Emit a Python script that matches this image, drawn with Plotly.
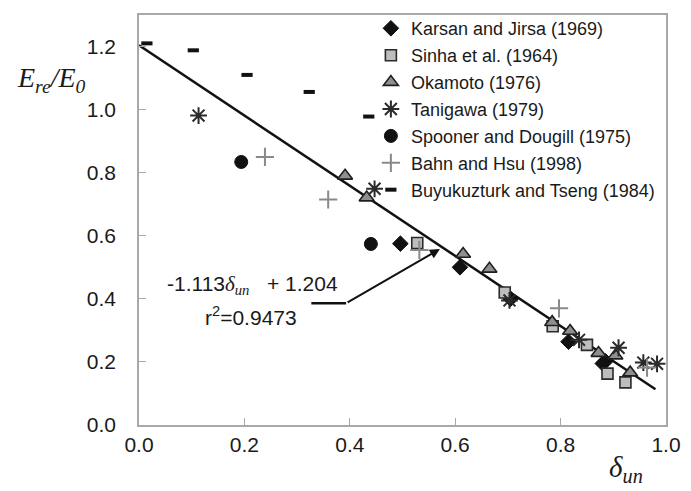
import plotly.graph_objects as go

# Normalised unloading strain (x) vs. reloading modulus ratio (y), by study
karsan_x = [0.496, 0.609, 0.705, 0.815, 0.885, 0.880]
karsan_y = [0.575, 0.500, 0.400, 0.264, 0.202, 0.195]

sinha_x = [0.528, 0.694, 0.785, 0.850, 0.889, 0.923]
sinha_y = [0.577, 0.420, 0.313, 0.254, 0.163, 0.135]

okamoto_x = [0.391, 0.432, 0.615, 0.665, 0.784, 0.818, 0.872, 0.904, 0.932]
okamoto_y = [0.790, 0.721, 0.542, 0.495, 0.326, 0.298, 0.228, 0.220, 0.166]

tanigawa_x = [0.113, 0.447, 0.703, 0.835, 0.910, 0.957, 0.983]
tanigawa_y = [0.981, 0.749, 0.395, 0.270, 0.245, 0.198, 0.194]

spooner_x = [0.194, 0.440]
spooner_y = [0.834, 0.574]

bahn_x = [0.239, 0.359, 0.532, 0.797, 0.964]
bahn_y = [0.850, 0.715, 0.555, 0.370, 0.182]

buyuk_x = [0.015, 0.103, 0.205, 0.323, 0.436]
buyuk_y = [1.210, 1.188, 1.110, 1.056, 0.978]

# Linear fit: E_re/E_0 = slope * delta_un + intercept
fit_slope = -1.113
fit_intercept = 1.204
fit_r2 = 0.9473
fit_x = [0.0, 0.98]
fit_y = [fit_slope * v + fit_intercept for v in fit_x]

tick_vals_x = [0.0, 0.2, 0.4, 0.6, 0.8, 1.0]
tick_vals_y = [0.0, 0.2, 0.4, 0.6, 0.8, 1.0, 1.2]

SANS = "Liberation Sans, Arial, sans-serif"
SERIF = "Liberation Serif, Times New Roman, serif"
DARK = "#1a1a1a"

fig = go.Figure()

fig.add_trace(go.Scatter(
    x=fit_x, y=fit_y, mode="lines", showlegend=False,
    line=dict(color="#111111", width=2.5), hoverinfo="skip"))

series = [
    ("Karsan and Jirsa (1969)", karsan_x, karsan_y,
     dict(symbol="diamond", size=12, color="#111111", line=dict(color="#111111", width=1))),
    ("Sinha et al. (1964)", sinha_x, sinha_y,
     dict(symbol="square", size=11, color="#bdbdbd", line=dict(color="#2a2a2a", width=1.6))),
    ("Okamoto (1976)", okamoto_x, okamoto_y,
     dict(symbol="triangle-up", size=13, color="#8f8f8f", line=dict(color="#1f1f1f", width=1.6))),
    ("Tanigawa (1979)", tanigawa_x, tanigawa_y,
     dict(symbol="asterisk-open", size=14, color="#2a2a2a", line=dict(color="#2a2a2a", width=2))),
    ("Spooner and Dougill (1975)", spooner_x, spooner_y,
     dict(symbol="circle", size=13, color="#111111", line=dict(color="#111111", width=1))),
    ("Bahn and Hsu (1998)", bahn_x, bahn_y,
     dict(symbol="cross-thin-open", size=13, color="#8a8a8a", line=dict(color="#8a8a8a", width=2))),
    ("Buyukuzturk and Tseng (1984)", buyuk_x, buyuk_y,
     dict(symbol="line-ew-open", size=8, color="#111111", line=dict(color="#111111", width=4))),
]

for i, (name, xs, ys, mk) in enumerate(series):
    fig.add_trace(go.Scatter(
        x=xs, y=ys, mode="markers", name=name, marker=mk,
        legendgroup=f"g{i}"))

# Leader from the fit label to the regression line
fig.add_shape(type="line", x0=0.327, y0=0.386, x1=0.393, y1=0.386,
              line=dict(color="#111111", width=2.5))
fig.add_annotation(x=0.571, y=0.558, ax=0.393, ay=0.386,
                   xref="x", yref="y", axref="x", ayref="y",
                   text="", showarrow=True, arrowhead=2, arrowsize=1,
                   arrowwidth=2, arrowcolor="#111111")

fig.add_annotation(
    x=0.049, y=0.445, xref="x", yref="y", xanchor="left", yanchor="middle",
    showarrow=False, font=dict(family=SANS, size=21, color=DARK),
    text=(f"{fit_slope:.3f}"
          f"<span style='font-family:{SERIF}'><i>δ</i><sub><i>un</i></sub></span>"
          f"   + {fit_intercept:.3f}"))
fig.add_annotation(
    x=0.122, y=0.345, xref="x", yref="y", xanchor="left", yanchor="middle",
    showarrow=False, font=dict(family=SANS, size=21, color=DARK),
    text=f"r<sup>2</sup>={fit_r2:.4f}")

# Axis titles
fig.add_annotation(
    x=-0.236, y=0.843, xref="paper", yref="paper", xanchor="left", yanchor="middle",
    showarrow=False, font=dict(family=SERIF, size=28, color=DARK),
    text="<i>E</i><sub><i>re</i></sub><i>/E</i><sub><i>0</i></sub>")
fig.add_annotation(
    x=0.925, y=-0.108, xref="paper", yref="paper", xanchor="center", yanchor="middle",
    showarrow=False, font=dict(family=SERIF, size=29, color=DARK),
    text="<i>δ</i><sub><i>un</i></sub>")

axis_common = dict(
    showgrid=False, zeroline=False, showline=True, linecolor="#a8a8a8",
    linewidth=1.5, mirror=True, ticks="inside", ticklen=7, tickwidth=1,
    tickcolor="#a8a8a8", tickformat=".1f",
    tickfont=dict(family=SANS, size=21, color=DARK))

fig.update_xaxes(range=[0, 1.0], tickvals=tick_vals_x, **axis_common)
fig.update_yaxes(range=[0, 1.3], tickvals=tick_vals_y, ticklabelstandoff=17,
                 **axis_common)

fig.update_layout(
    width=691, height=491,
    margin=dict(l=139, r=20, t=10, b=66),
    paper_bgcolor="white", plot_bgcolor="white",
    legend=dict(x=0.44, y=1.012, xanchor="left", yanchor="top",
                bgcolor="rgba(0,0,0,0)", borderwidth=0,
                font=dict(family=SANS, size=18, color=DARK),
                traceorder="grouped", tracegroupgap=0.5, itemwidth=30),
)

fig.write_html("out.html")
